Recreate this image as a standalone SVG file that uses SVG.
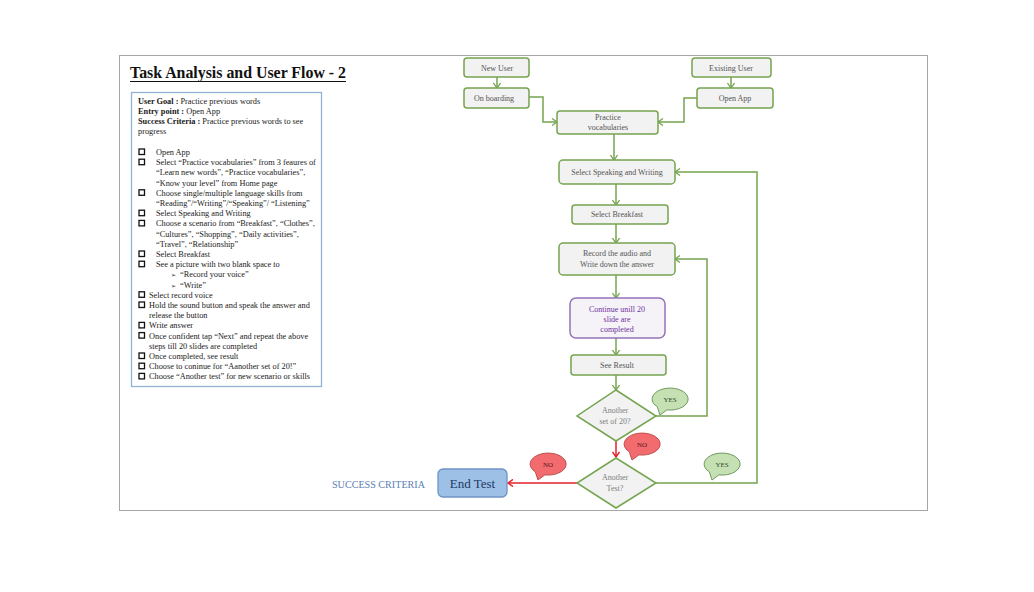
<svg xmlns="http://www.w3.org/2000/svg" width="1034" height="592" viewBox="0 0 1034 592">
<style>
  text { font-family: "Liberation Serif", "DejaVu Serif", serif; }
  .lt { font-size: 8.3px; fill: #1a1a1a; }
  .b { font-weight: bold; }
  .cb { fill: none; stroke: #111; stroke-width: 1.3; }
  .node rect { fill: #f2f2f2; stroke: #76a450; stroke-width: 1.5; }
  .node text { font-size: 8px; fill: #555; text-anchor: middle; }
  .dia polygon { fill: #f2f2f2; stroke: #76a450; stroke-width: 1.5; }
  .dia text { font-size: 8px; fill: #808080; text-anchor: middle; }
  .g { fill: none; stroke: #76a450; stroke-width: 1.5; }
  .r { fill: none; stroke: #e3202b; stroke-width: 1.5; }
  .yes { fill: #c5e0b3; stroke: #6e9a5c; stroke-width: 1; }
  .no { fill: #f26b6f; stroke: #c0504d; stroke-width: 1; }
  .bt { font-size: 7px; text-anchor: middle; }
</style>
<defs>
  <marker id="ag" markerWidth="8" markerHeight="8" refX="6" refY="4" orient="auto" markerUnits="userSpaceOnUse">
    <path d="M1,0.5 L6,4 L1,7.5" fill="none" stroke="#76a450" stroke-width="1.3"/>
  </marker>
  <marker id="ar" markerWidth="8" markerHeight="8" refX="6" refY="4" orient="auto" markerUnits="userSpaceOnUse">
    <path d="M1,0.5 L6,4 L1,7.5" fill="none" stroke="#e3202b" stroke-width="1.5"/>
  </marker>
  <path id="bubble" d="M-3.1,10.9 A18,11 0 1 0 -12.7,7.8 L-10,16 Z"/>
</defs>
<rect width="1034" height="592" fill="#fff"/>
<rect x="119.5" y="55.5" width="808" height="455" fill="#fff" stroke="#a6a6a6" stroke-width="1"/>

<g id="title">
  <text x="130" y="78" font-size="17" font-weight="bold" fill="#111" textLength="216" lengthAdjust="spacingAndGlyphs">Task Analysis and User Flow - 2</text>
  <line x1="130" y1="81.5" x2="346" y2="81.5" stroke="#111" stroke-width="1"/>
</g>

<g id="task-list">
  <rect x="131.5" y="92.5" width="190" height="294" fill="#fff" stroke="#8fb4d6" stroke-width="1.3"/>
  <text class="lt" x="138" y="104"><tspan class="b">User Goal :</tspan> Practice previous words</text>
  <text class="lt" x="138" y="114"><tspan class="b">Entry point :</tspan> Open App</text>
  <text class="lt" x="138" y="124"><tspan class="b">Success Criteria :</tspan> Practice previous words to see</text>
  <text class="lt" x="138" y="134">progress</text>

  <rect class="cb" x="139" y="149" width="5.5" height="5.5"/>
  <text class="lt" x="156" y="155">Open App</text>
  <rect class="cb" x="139" y="159.2" width="5.5" height="5.5"/>
  <text class="lt" x="156" y="165.2">Select “Practice vocabularies” from 3 feaures of</text>
  <text class="lt" x="156" y="175.4">“Learn new words”, “Practice vocabularies”,</text>
  <text class="lt" x="156" y="185.6">“Know your level” from Home page</text>
  <rect class="cb" x="139" y="189.8" width="5.5" height="5.5"/>
  <text class="lt" x="156" y="195.8">Choose single/multiple language skills from</text>
  <text class="lt" x="156" y="206">“Reading”/“Writing”/“Speaking”/ “Listening”</text>
  <rect class="cb" x="139" y="210.2" width="5.5" height="5.5"/>
  <text class="lt" x="156" y="216.2">Select Speaking and Writing</text>
  <rect class="cb" x="139" y="220.4" width="5.5" height="5.5"/>
  <text class="lt" x="156" y="226.4">Choose a scenario from “Breakfast”, “Clothes”,</text>
  <text class="lt" x="156" y="236.6">“Cultures”, “Shopping”, “Daily activities”,</text>
  <text class="lt" x="156" y="246.8">“Travel”, “Relationship”</text>
  <rect class="cb" x="139" y="251" width="5.5" height="5.5"/>
  <text class="lt" x="156" y="257">Select Breakfast</text>
  <rect class="cb" x="139" y="261.2" width="5.5" height="5.5"/>
  <text class="lt" x="156" y="267.2">See a picture with two blank space to</text>
  <text class="lt" x="171" y="277.4"><tspan font-family="DejaVu Sans, sans-serif" font-size="6">➢</tspan></text>
  <text class="lt" x="180" y="277.4">“Record your voice”</text>
  <text class="lt" x="171" y="287.6"><tspan font-family="DejaVu Sans, sans-serif" font-size="6">➢</tspan></text>
  <text class="lt" x="180" y="287.6">“Write”</text>

  <rect class="cb" x="139" y="291.8" width="5.5" height="5.5"/>
  <text class="lt" x="149" y="297.8">Select record voice</text>
  <rect class="cb" x="139" y="302" width="5.5" height="5.5"/>
  <text class="lt" x="149" y="308">Hold the sound button and speak the answer and</text>
  <text class="lt" x="149" y="318.2">release the button</text>
  <rect class="cb" x="139" y="322.4" width="5.5" height="5.5"/>
  <text class="lt" x="149" y="328.4">Write answer</text>
  <rect class="cb" x="139" y="332.6" width="5.5" height="5.5"/>
  <text class="lt" x="149" y="338.6">Once confident tap “Next” and repeat the above</text>
  <text class="lt" x="149" y="348.8">steps till 20 slides are completed</text>
  <rect class="cb" x="139" y="353" width="5.5" height="5.5"/>
  <text class="lt" x="149" y="359">Once completed, see result</text>
  <rect class="cb" x="139" y="363.2" width="5.5" height="5.5"/>
  <text class="lt" x="149" y="369.2">Choose to coninue for “Aanother set of 20!”</text>
  <rect class="cb" x="139" y="373.4" width="5.5" height="5.5"/>
  <text class="lt" x="149" y="379.4">Choose “Another test” for new scenario or skills</text>
</g>

<g id="connectors">
  <line class="g" x1="497" y1="77" x2="497" y2="88" marker-end="url(#ag)"/>
  <line class="g" x1="731" y1="77" x2="731" y2="88" marker-end="url(#ag)"/>
  <polyline class="g" points="529,97 543,97 543,122 557,122" marker-end="url(#ag)"/>
  <polyline class="g" points="697,98 684,98 684,122 658,122" marker-end="url(#ag)"/>
  <line class="g" x1="614" y1="134" x2="614" y2="160" marker-end="url(#ag)"/>
  <line class="g" x1="616" y1="184" x2="616" y2="205" marker-end="url(#ag)"/>
  <line class="g" x1="616" y1="224" x2="616" y2="243" marker-end="url(#ag)"/>
  <line class="g" x1="616" y1="275" x2="616" y2="298" marker-end="url(#ag)"/>
  <line class="g" x1="616" y1="338" x2="616" y2="355" marker-end="url(#ag)"/>
  <line class="g" x1="616" y1="375" x2="616" y2="390" marker-end="url(#ag)"/>
  <polyline class="g" points="656,416 707,416 707,259 675,259" marker-end="url(#ag)"/>
  <polyline class="g" points="656,483 757,483 757,172 675,172" marker-end="url(#ag)"/>
  <line class="r" x1="616" y1="441" x2="616" y2="457" marker-end="url(#ar)"/>
  <line class="r" x1="577" y1="483" x2="508" y2="483" marker-end="url(#ar)"/>
</g>

<g id="new-user" class="node"><rect x="464" y="58" width="65" height="19" rx="3"/><text x="497" y="70.5">New User</text></g>
<g id="existing-user" class="node"><rect x="692" y="58" width="79" height="19" rx="3"/><text x="731" y="70.5">Existing User</text></g>
<g id="on-boarding" class="node"><rect x="464" y="88" width="65" height="20" rx="3"/><text x="494" y="100.5">On boarding</text></g>
<g id="open-app" class="node"><rect x="697" y="88" width="76" height="20" rx="3"/><text x="735" y="100.5">Open App</text></g>
<g id="practice" class="node"><rect x="557" y="111" width="101" height="23" rx="3"/><text x="608" y="119.5">Practice</text><text x="608" y="130">vocabularies</text></g>
<g id="select-speaking" class="node"><rect x="559" y="160" width="116" height="24" rx="4"/><text x="617" y="174.5">Select Speaking and Writing</text></g>
<g id="select-breakfast" class="node"><rect x="572" y="205" width="96" height="19" rx="3"/><text x="617" y="217">Select Breakfast</text></g>
<g id="record" class="node"><rect x="559" y="243" width="116" height="32" rx="4"/><text x="617" y="255.5">Record the audio and</text><text x="617" y="266.5">Write down the answer</text></g>
<g id="continue" class="node"><rect x="570" y="298" width="95" height="40" rx="6" style="fill:#f5f3f7;stroke:#9473b8"/><text x="617" y="311.5" style="fill:#7030a0">Continue unill 20</text><text x="617" y="321.5" style="fill:#7030a0">slide are</text><text x="617" y="331.5" style="fill:#7030a0">completed</text></g>
<g id="see-result" class="node"><rect x="571" y="355" width="95" height="20" rx="3"/><text x="617" y="367.5">See Result</text></g>
<g id="another-set" class="dia"><polygon points="616,390 656,416 616,441 577,416"/><text x="615" y="413">Another</text><text x="615" y="424">set of 20?</text></g>
<g id="another-test" class="dia"><polygon points="616,458 656,483 616,508 577,483"/><text x="615" y="480">Another</text><text x="615" y="491">Test?</text></g>
<g id="end-test"><rect x="438" y="469" width="69" height="28" rx="5" fill="#9dc0e6" stroke="#6f94c4" stroke-width="1.3"/><text x="472.5" y="487.5" font-size="13" fill="#1f3864" text-anchor="middle">End Test</text></g>
<g id="success-criteria"><text x="332" y="488" font-size="10" fill="#5a80b4" textLength="93" lengthAdjust="spacingAndGlyphs">SUCCESS CRITERIA</text></g>

<g id="bubble-yes-1"><use href="#bubble" class="yes" x="670" y="399"/><text class="bt" x="670" y="402" fill="#2e4a2e">YES</text></g>
<g id="bubble-no-1"><use href="#bubble" class="no" x="642" y="444"/><text class="bt" x="642" y="447" fill="#5a1515">NO</text></g>
<g id="bubble-no-2"><use href="#bubble" class="no" x="548" y="464"/><text class="bt" x="548" y="467" fill="#5a1515">NO</text></g>
<g id="bubble-yes-2"><use href="#bubble" class="yes" x="722" y="464"/><text class="bt" x="722" y="467" fill="#2e4a2e">YES</text></g>
</svg>
